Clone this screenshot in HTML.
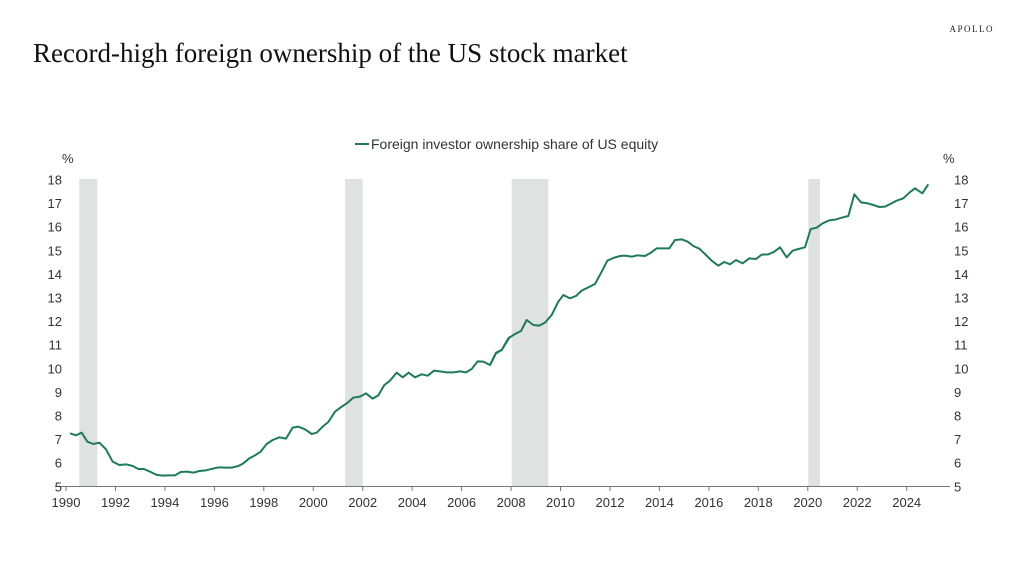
<!DOCTYPE html>
<html><head><style>
html,body{margin:0;padding:0;background:#fff;}
svg{display:block;}
</style></head><body>
<svg width="1024" height="575" xmlns="http://www.w3.org/2000/svg" font-family="Liberation Sans, sans-serif">
<text x="33" y="62" font-family="Liberation Serif, serif" font-size="27" fill="#111">Record-high foreign ownership of the US stock market</text>
<text x="994" y="32" text-anchor="end" font-family="Liberation Serif, serif" font-size="9" letter-spacing="1.5" fill="#222">APOLLO</text>
<line x1="355" y1="144" x2="369" y2="144" stroke="#1f7a5c" stroke-width="2"/>
<text x="371" y="149" font-size="14" fill="#333">Foreign investor ownership share of US equity</text>
<g fill="#e0e2e1">
<rect x="79.3" y="179" width="18" height="307"/>
<rect x="345" y="179" width="17.7" height="307"/>
<rect x="511.7" y="179" width="36.6" height="307"/>
<rect x="808.3" y="179" width="11.7" height="307"/>
</g>
<line x1="55" y1="486.5" x2="950" y2="486.5" stroke="#777" stroke-width="1"/>
<g stroke="#777" stroke-width="1">
<line x1="66" y1="486" x2="66" y2="491"/><line x1="115.5" y1="486" x2="115.5" y2="491"/><line x1="164.9" y1="486" x2="164.9" y2="491"/><line x1="214.4" y1="486" x2="214.4" y2="491"/><line x1="263.8" y1="486" x2="263.8" y2="491"/><line x1="313.3" y1="486" x2="313.3" y2="491"/><line x1="362.7" y1="486" x2="362.7" y2="491"/><line x1="412.2" y1="486" x2="412.2" y2="491"/><line x1="461.6" y1="486" x2="461.6" y2="491"/><line x1="511.1" y1="486" x2="511.1" y2="491"/><line x1="560.5" y1="486" x2="560.5" y2="491"/><line x1="610" y1="486" x2="610" y2="491"/><line x1="659.4" y1="486" x2="659.4" y2="491"/><line x1="708.9" y1="486" x2="708.9" y2="491"/><line x1="758.3" y1="486" x2="758.3" y2="491"/><line x1="807.8" y1="486" x2="807.8" y2="491"/><line x1="857.2" y1="486" x2="857.2" y2="491"/><line x1="906.7" y1="486" x2="906.7" y2="491"/>
</g>
<g font-size="13" fill="#333" text-anchor="middle">
<text x="66" y="507">1990</text><text x="115.5" y="507">1992</text><text x="164.9" y="507">1994</text><text x="214.4" y="507">1996</text><text x="263.8" y="507">1998</text><text x="313.3" y="507">2000</text><text x="362.7" y="507">2002</text><text x="412.2" y="507">2004</text><text x="461.6" y="507">2006</text><text x="511.1" y="507">2008</text><text x="560.5" y="507">2010</text><text x="610" y="507">2012</text><text x="659.4" y="507">2014</text><text x="708.9" y="507">2016</text><text x="758.3" y="507">2018</text><text x="807.8" y="507">2020</text><text x="857.2" y="507">2022</text><text x="906.7" y="507">2024</text>
</g>
<g font-size="13" fill="#333">
<text x="62" y="163">%</text>
<text x="943" y="163">%</text>
<g text-anchor="end">
<text x="62" y="184.5">18</text><text x="62" y="208.1">17</text><text x="62" y="231.7">16</text><text x="62" y="255.3">15</text><text x="62" y="278.9">14</text><text x="62" y="302.5">13</text><text x="62" y="326.1">12</text><text x="62" y="349.7">11</text><text x="62" y="373.3">10</text><text x="62" y="396.9">9</text><text x="62" y="420.5">8</text><text x="62" y="444.1">7</text><text x="62" y="467.7">6</text><text x="62" y="491.3">5</text>
</g>
<g>
<text x="954" y="184.5">18</text><text x="954" y="208.1">17</text><text x="954" y="231.7">16</text><text x="954" y="255.3">15</text><text x="954" y="278.9">14</text><text x="954" y="302.5">13</text><text x="954" y="326.1">12</text><text x="954" y="349.7">11</text><text x="954" y="373.3">10</text><text x="954" y="396.9">9</text><text x="954" y="420.5">8</text><text x="954" y="444.1">7</text><text x="954" y="467.7">6</text><text x="954" y="491.3">5</text>
</g>
</g>
<g fill="none" stroke="#1f7a5c" stroke-width="2" stroke-linejoin="round">
<polyline transform="translate(50,170) scale(0.33333)" vector-effect="non-scaling-stroke" points="60,790 78,796 95,788 112,815 130,822 148,818 168,838 188,875 208,885 228,883 248,888 265,897 282,897 300,905 318,914 336,917 355,916 375,916 392,906 410,905 430,908 448,903 468,901 488,896 508,892 528,893 545,893 565,888 580,880 598,865 615,856 632,845 650,822 668,810 688,802 708,806 728,773 745,770 765,778 785,792 800,788 818,770 835,756 855,725 875,710 893,698 910,683 930,680 948,670 968,686 985,676 1003,645 1020,632 1040,608 1058,622 1076,608 1095,622 1115,613 1133,617 1152,602 1170,604 1190,607 1210,607 1230,604 1248,607 1265,597 1283,574 1300,575 1320,585 1338,550 1355,540 1380,500"/>
<polyline transform="translate(490,170) scale(0.33333)" vector-effect="non-scaling-stroke" points="0,585 18,548 35,540 55,505 75,492 93,483 110,450 130,465 148,467 165,458 185,435 205,395 220,375 240,385 258,378 275,362 295,352 315,342 335,305 352,272 370,264 390,258 405,257 425,260 443,256 465,258 483,248 500,235 518,235 538,235 555,210 575,208 593,215 610,228 628,236 648,255 665,272 685,287 703,276 720,283 738,270 758,280 778,265 798,267 815,254 835,253 853,245 870,232 890,262 908,242 925,237 945,232 962,177 980,173 998,160 1018,151 1035,149 1055,143 1075,138 1093,73 1113,97 1133,100 1150,105 1168,111 1185,110 1203,101 1220,92 1240,85 1258,68 1275,55 1297,70 1315,43"/>
</g>
</svg>
</body></html>
